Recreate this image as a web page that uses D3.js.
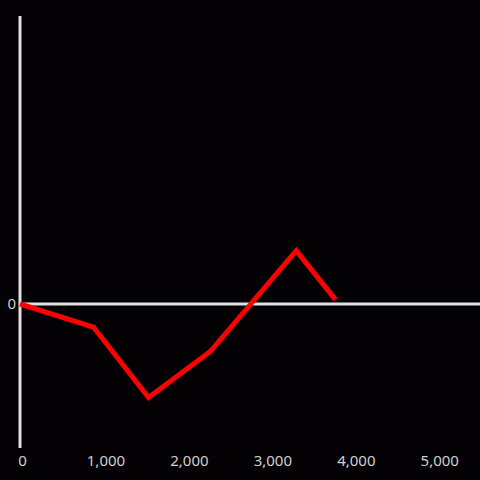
<!DOCTYPE html>
<html>
<head>
<meta charset="utf-8">
<script src="https://cdn.jsdelivr.net/npm/d3@7"></script>
<style>
  html, body { margin: 0; padding: 0; background: #030104; }
  svg { display: block; }
</style>
</head>
<body>
<div id="chart"></div>
<script>
// values
const xValues = [0, 880, 1540, 2280, 3310, 3780];
const yValues = [0, -0.16, -0.65, -0.33, 0.37, 0.03];
const xTicks = [0, 1000, 2000, 3000, 4000, 5000];
const yTicks = [0];

const width = 480;
const height = 480;

const svg = d3.select("#chart")
    .append("svg")
    .attr("width", width)
    .attr("height", height)
    .style("background", "#030104");

const xScale = d3.scaleLinear()
    .domain([0, 5500])
    .range([20, 479]);

const yScale = d3.scaleLinear()
    .domain([-1, 2])
    .range([448, 16]);

// zero line
svg.append("line")
    .attr("x1", xScale(0))
    .attr("x2", width)
    .attr("y1", yScale(0))
    .attr("y2", yScale(0))
    .attr("stroke", "#e0e0e0")
    .attr("stroke-width", 3);

// y axis line
svg.append("line")
    .attr("x1", xScale(0))
    .attr("x2", xScale(0))
    .attr("y1", yScale(2))
    .attr("y2", yScale(-1))
    .attr("stroke", "#e0e0e0")
    .attr("stroke-width", 3);

const xAxis = d3.axisBottom(xScale)
    .tickValues(xTicks)
    .tickFormat(d3.format(","))
    .tickSize(0)
    .tickPadding(7);

svg.append("g")
    .attr("transform", `translate(2,${yScale(-1)})`)
    .call(xAxis)
    .call(g => g.select(".domain").remove())
    .selectAll("text")
    .attr("fill", "#cfcfcf")
    .style("font-family", "Noto Sans")
    .style("font-size", "15px");

const yAxis = d3.axisLeft(yScale)
    .tickValues(yTicks)
    .tickFormat(d3.format(","))
    .tickSize(0)
    .tickPadding(4);

svg.append("g")
    .attr("transform", `translate(${xScale(0)},0)`)
    .call(yAxis)
    .call(g => g.select(".domain").remove())
    .selectAll("text")
    .attr("fill", "#cfcfcf")
    .style("font-family", "Noto Sans")
    .style("font-size", "15px");

const points = xValues.map((x, i) => [x, yValues[i]]);

const line = d3.line()
    .x(d => xScale(d[0]))
    .y(d => yScale(d[1]));

svg.append("path")
    .datum(points)
    .attr("d", line)
    .attr("fill", "none")
    .attr("stroke", "#ff0000")
    .attr("stroke-width", 5);
</script>
</body>
</html>
